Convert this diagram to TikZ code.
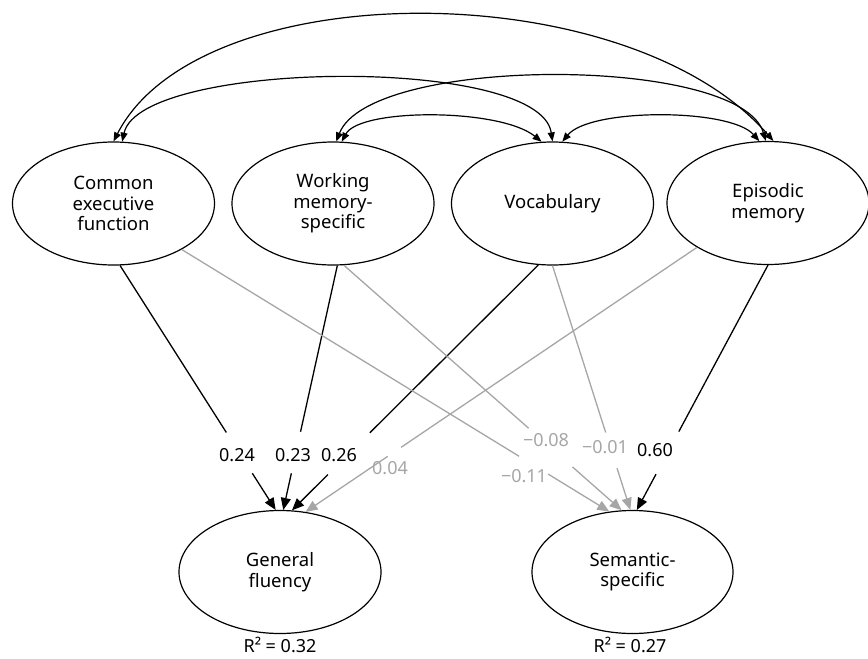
\documentclass[tikz,border=0pt]{standalone}
\usepackage{fontspec}
\setmainfont{Noto Sans}
\usetikzlibrary{arrows.meta,calc,shapes.geometric}
\definecolor{lgray}{RGB}{166,166,166}
\begin{document}
\begin{tikzpicture}[x=1pt,y=-1pt,
  lat/.style={draw, ellipse, line width=1.2pt, minimum width=202pt, minimum height=123pt,
    inner sep=0pt, align=center, font=\fontsize{18.5}{20.5}\selectfont},
  lab/.style={font=\fontsize{18}{20}\selectfont, inner sep=1pt},
  glab/.style={lab, text=lgray},
  rlab/.style={font=\fontsize{18}{20}\selectfont, inner sep=0pt, anchor=base},
  bl/.style={line width=1.3pt, draw=black},
  gl/.style={line width=1.3pt, draw=lgray},
  tipend/.style={-{Triangle[length=12pt,width=10pt]}},
  cor/.style={line width=1.2pt, {Triangle[length=9pt,width=7pt]}-{Triangle[length=9pt,width=7pt]}}
]
\useasboundingbox (0,0) rectangle (868,659);

% latent variables
\node[lat] (CEF) at (113.5,203.5) {Common\\executive\\function};
\node[lat] (WM)  at (333,203.5) {Working\\memory-\\specific};
\node[lat] (VOC) at (552.5,203.5) {Vocabulary};
\node[lat] (EM)  at (768,203) {Episodic\\memory};
\node[lat] (GF)  at (280,572) {General\\fluency};
\node[lat, minimum width=201pt] (SS) at (632.5,572) {Semantic-\\specific};

% R squared
\node[rlab] (R2a) at (280,652) {R² = 0.32};
\node[rlab] (R2b) at (630,652) {R² = 0.27};

% correlations
\draw[cor] (CEF.90) .. controls (200,-27) and (627,-27) .. (EM.85);
\draw[cor] (CEF.82) .. controls (140,60) and (540,55) .. (VOC.90);
\draw[cor] (WM.87) .. controls (370,55) and (740,55) .. (EM.92);
\draw[cor] (WM.82) .. controls (360,108) and (500,108) .. (VOC.100);
\draw[cor] (VOC.81) .. controls (590,108) and (730,108) .. (EM.98);

% path labels
\node[lab]  (l024) at (237,455) {0.24};
\node[lab]  (l023) at (293,455) {0.23};
\node[lab]  (l026) at (339,455) {0.26};
\node[glab] (l004) at (390,468) {0.04};
\node[glab] (l008) at (546,440) {−0.08};
\node[glab] (l001) at (605,447) {−0.01};
\node[lab]  (l060) at (655,450) {0.60};
\node[glab] (l011) at (524,476) {−0.11};

% regression paths (with gaps)
\path (CEF.276) -- (GF.94) coordinate[pos=0.683] (a1) coordinate[pos=0.85] (a2);
\draw[bl] (CEF.276) -- (a1);
\draw[bl,tipend] (a2) -- (GF.94);

\path (WM.274) -- (GF.87) coordinate[pos=0.68] (b1) coordinate[pos=0.85] (b2);
\draw[bl] (WM.274) -- (b1);
\draw[bl,tipend] (b2) -- (GF.87);

\path (VOC.257) -- (GF.79) coordinate[pos=0.684] (c1) coordinate[pos=0.854] (c2);
\draw[bl] (VOC.257) -- (c1);
\draw[bl,tipend] (c2) -- (GF.79);

\path (EM.212.5) -- (GF.67) coordinate[pos=0.756] (d1) coordinate[pos=0.79] (d2);
\draw[gl] (EM.212.5) -- (d1);
\draw[gl,tipend] (d2) -- (GF.67);

\path (CEF.326) -- (SS.111) coordinate[pos=0.789] (e1) coordinate[pos=0.857] (e2);
\draw[gl] (CEF.326) -- (e1);
\draw[gl,tipend] (e2) -- (SS.111);

\path (WM.280) -- (SS.100) coordinate[pos=0.665] (f1) coordinate[pos=0.823] (f2);
\draw[gl] (WM.280) -- (f1);
\draw[gl,tipend] (f2) -- (SS.100);

\path (VOC.270) -- (SS.92) coordinate[pos=0.683] (g1) coordinate[pos=0.829] (g2);
\draw[gl] (VOC.270) -- (g1);
\draw[gl,tipend] (g2) -- (SS.92);

\path (EM.270) -- (SS.86) coordinate[pos=0.68] (h1) coordinate[pos=0.854] (h2);
\draw[bl] (EM.270) -- (h1);
\draw[bl,tipend] (h2) -- (SS.86);
\end{tikzpicture}
\end{document}
